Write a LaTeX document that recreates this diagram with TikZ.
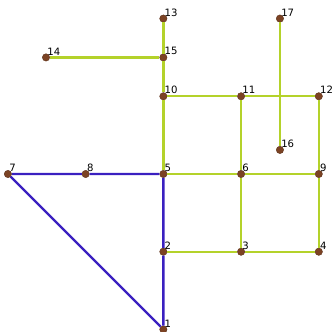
\documentclass[tikz,border=0pt]{standalone}
\usepackage{fontspec}
\setsansfont{DejaVu Sans}
\usetikzlibrary{positioning}
\definecolor{limeline}{HTML}{B4D22A}
\definecolor{indigoline}{HTML}{3A20C0}
\definecolor{nodebrown}{HTML}{7C4324}
\tikzset{
	vertex/.style = { circle, fill=nodebrown, draw=nodebrown!75!black, line width=0.3pt,
		inner sep=0pt, minimum size=5.4pt, label distance=0pt },
	tag/.style = { font=\sffamily\fontsize{7.4}{8}\selectfont, inner sep=0pt,
		xshift=-1.2pt, yshift=-0.5pt },
	lime/.style = { line width=1.7pt, color=limeline },
	indigo/.style = { line width=1.7pt, color=indigoline },
}

\begin{document}
\begin{tikzpicture}[x=2cm, y=2cm]
\useasboundingbox (-2.102,-2.033) rectangle (2.158,2.239);

% vertices
\node[vertex, label={[tag]north east:1}]  (v1)  at (0,-2)     {};
\node[vertex, label={[tag]north east:2}]  (v2)  at (0,-1)     {};
\node[vertex, label={[tag]north east:3}]  (v3)  at (1,-1)     {};
\node[vertex, label={[tag]north east:4}]  (v4)  at (2,-1)     {};
\node[vertex, label={[tag]north east:5}]  (v5)  at (0,0)      {};
\node[vertex, label={[tag]north east:6}]  (v6)  at (1,0)      {};
\node[vertex, label={[tag]north east:7}]  (v7)  at (-2,0)     {};
\node[vertex, label={[tag]north east:8}]  (v8)  at (-1,0)     {};
\node[vertex, label={[tag]north east:9}]  (v9)  at (2,0)      {};
\node[vertex, label={[tag]north east:10}] (v10) at (0,1)      {};
\node[vertex, label={[tag]north east:11}] (v11) at (1,1)      {};
\node[vertex, label={[tag]north east:12}] (v12) at (2,1)      {};
\node[vertex, label={[tag]north east:13}] (v13) at (0,2)      {};
\node[vertex, label={[tag]north east:14}] (v14) at (-1.51,1.5) {};
\node[vertex, label={[tag]north east:15}] (v15) at (0,1.5)    {};
\node[vertex, label={[tag]north east:16}] (v16) at (1.5,0.31) {};
\node[vertex, label={[tag]north east:17}] (v17) at (1.5,2)    {};

% edges
\draw[lime] (v13) -- (v15) -- (v10) -- (v5);
\draw[lime] (v14) -- (v15);
\draw[lime] (v10) -- (v11) -- (v12) -- (v9) -- (v4);
\draw[lime] (v5) -- (v6) -- (v9);
\draw[lime] (v11) -- (v6) -- (v3);
\draw[lime] (v2) -- (v3) -- (v4);
\draw[lime] (v17) -- (v16);
\draw[indigo] (v7) -- (v8) -- (v5) -- (v2) -- (v1) -- (v7);
\end{tikzpicture}
\end{document}
